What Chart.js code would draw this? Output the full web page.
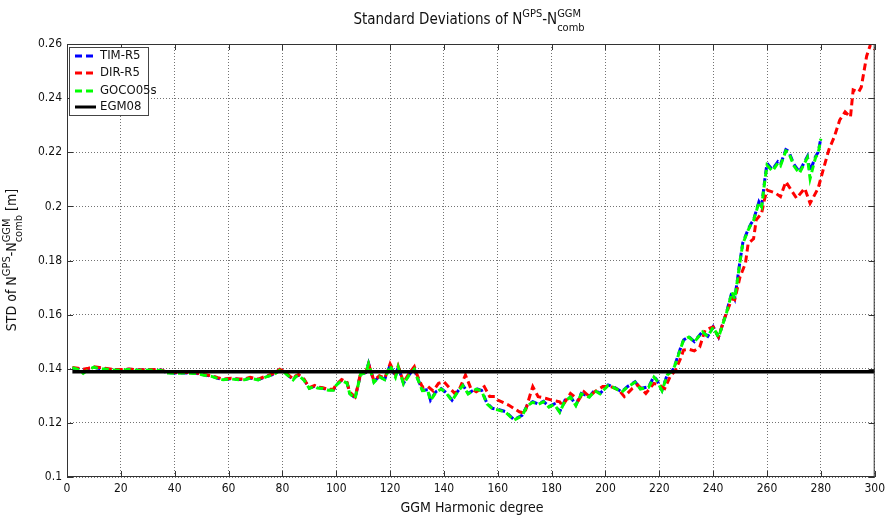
<!DOCTYPE html>
<html>
<head>
<meta charset="utf-8">
<script src="https://cdn.jsdelivr.net/npm/chart.js@4.4.1/dist/chart.umd.min.js"></script>
<style>
  html, body { margin: 0; padding: 0; background: #fff; }
  #wrap { width: 890px; height: 518px; }
</style>
</head>
<body>
<div id="wrap"><canvas id="stdChart" width="890" height="518"></canvas></div>
<script>
// harmonic degrees + STD values [m]
const degTim = [2, 4, 6, 8, 10, 12, 14, 17, 20, 23, 27, 31, 35, 37, 40, 44, 48, 51, 54, 56, 58, 61, 64, 66, 68, 71, 74, 77, 79, 81, 84, 85, 86, 88, 90, 92, 93, 95, 97, 99, 100, 102, 104, 105, 107, 108, 109, 111, 112, 114, 116, 118, 120, 122, 123, 125, 127, 129, 130, 132, 134, 135, 137, 139, 141, 143, 145, 147, 149, 152, 154, 156, 158, 160, 163, 166, 169, 171, 173, 175, 177, 179, 181, 183, 185, 187, 189, 191, 194, 196, 198, 201, 203, 206, 208, 211, 213, 216, 218, 219, 221, 223, 225, 226, 228, 229, 231, 233, 236, 238, 240, 242, 245, 247, 248, 249, 250, 251, 253, 254, 255, 257, 258, 259, 260, 262, 264, 265, 267, 268, 270, 272, 275, 276, 278, 279, 280];
const timR5 = [0.1402, 0.1400, 0.1392, 0.1398, 0.1405, 0.1401, 0.1400, 0.1396, 0.1395, 0.1398, 0.1395, 0.1396, 0.1395, 0.1386, 0.1384, 0.1385, 0.1383, 0.1377, 0.1372, 0.1365, 0.1360, 0.1363, 0.1360, 0.1360, 0.1366, 0.1360, 0.1371, 0.1380, 0.1395, 0.1385, 0.1360, 0.1372, 0.1377, 0.1360, 0.1328, 0.1336, 0.1330, 0.1328, 0.1322, 0.1322, 0.1340, 0.1358, 0.1348, 0.1310, 0.1292, 0.1334, 0.1380, 0.1386, 0.1420, 0.1352, 0.1372, 0.1361, 0.1414, 0.1371, 0.1408, 0.1346, 0.1377, 0.1400, 0.1370, 0.1321, 0.1322, 0.1284, 0.1315, 0.1327, 0.1310, 0.1284, 0.1315, 0.1340, 0.1309, 0.1327, 0.1320, 0.1272, 0.1254, 0.1250, 0.1241, 0.1212, 0.1228, 0.1266, 0.1278, 0.1270, 0.1280, 0.1260, 0.1270, 0.1241, 0.1284, 0.1297, 0.1266, 0.1309, 0.1297, 0.1321, 0.1309, 0.1340, 0.1333, 0.1315, 0.1333, 0.1352, 0.1327, 0.1333, 0.1371, 0.1360, 0.1321, 0.1380, 0.1395, 0.1420, 0.1480, 0.1506, 0.1518, 0.1500, 0.1537, 0.1520, 0.1555, 0.1517, 0.1610, 0.1685, 0.1660, 0.1728, 0.1800, 0.1865, 0.1915, 0.1935, 0.1950, 0.2017, 0.2000, 0.2085, 0.2159, 0.2136, 0.2165, 0.2155, 0.2210, 0.2205, 0.2155, 0.2128, 0.2184, 0.2130, 0.2184, 0.2200, 0.2252];
const goco05s = [0.1404, 0.1398, 0.1383, 0.1397, 0.1406, 0.1400, 0.1399, 0.1395, 0.1394, 0.1397, 0.1394, 0.1395, 0.1394, 0.1384, 0.1383, 0.1384, 0.1382, 0.1376, 0.1371, 0.1364, 0.1359, 0.1362, 0.1359, 0.1359, 0.1365, 0.1359, 0.1370, 0.1379, 0.1394, 0.1384, 0.1359, 0.1371, 0.1376, 0.1358, 0.1327, 0.1335, 0.1329, 0.1327, 0.1321, 0.1321, 0.1339, 0.1357, 0.1347, 0.1308, 0.1290, 0.1333, 0.1379, 0.1385, 0.1418, 0.1350, 0.1370, 0.1360, 0.1412, 0.1369, 0.1406, 0.1344, 0.1375, 0.1398, 0.1368, 0.1319, 0.1320, 0.1282, 0.1313, 0.1325, 0.1308, 0.1282, 0.1313, 0.1338, 0.1307, 0.1325, 0.1318, 0.1270, 0.1252, 0.1248, 0.1239, 0.1210, 0.1226, 0.1264, 0.1276, 0.1268, 0.1278, 0.1258, 0.1268, 0.1239, 0.1282, 0.1295, 0.1264, 0.1307, 0.1295, 0.1319, 0.1307, 0.1338, 0.1331, 0.1313, 0.1331, 0.1350, 0.1325, 0.1331, 0.1369, 0.1358, 0.1319, 0.1378, 0.1393, 0.1418, 0.1478, 0.1505, 0.1517, 0.1499, 0.1536, 0.1519, 0.1554, 0.1516, 0.1608, 0.1683, 0.1658, 0.1726, 0.1798, 0.1862, 0.1912, 0.1932, 0.1948, 0.2014, 0.1998, 0.2080, 0.2152, 0.2130, 0.2160, 0.2150, 0.2205, 0.2200, 0.2150, 0.2122, 0.2180, 0.2103, 0.2180, 0.2196, 0.2250];

const degDir = [2, 4, 6, 8, 10, 12, 14, 17, 20, 23, 27, 31, 35, 37, 40, 44, 48, 51, 54, 56, 58, 61, 64, 66, 68, 71, 74, 77, 79, 81, 84, 85, 86, 88, 90, 92, 93, 95, 97, 99, 100, 102, 104, 105, 107, 108, 109, 111, 112, 114, 116, 118, 120, 122, 123, 125, 127, 129, 130, 132, 134, 136, 138, 140, 142, 144, 146, 148, 150, 152, 154, 155, 157, 159, 160, 164, 168, 170, 172, 173, 175, 178, 180, 183, 184, 187, 190, 192, 194, 196, 199, 202, 205, 207, 210, 212, 215, 218, 220, 222, 224, 226, 228, 229, 231, 233, 235, 237, 240, 242, 244, 247, 248, 250, 252, 253, 255, 256, 258, 259, 260, 263, 265, 267, 269, 271, 274, 276, 279, 281, 283, 285, 287, 289, 291, 292, 294, 295, 297, 298.5, 300];
const dirR5 = [0.1405, 0.1402, 0.1398, 0.1402, 0.1407, 0.1405, 0.1402, 0.1398, 0.1397, 0.1399, 0.1396, 0.1397, 0.1395, 0.1388, 0.1386, 0.1386, 0.1385, 0.1379, 0.1374, 0.1367, 0.1362, 0.1365, 0.1362, 0.1362, 0.1368, 0.1362, 0.1373, 0.1383, 0.1398, 0.1388, 0.1362, 0.1374, 0.1379, 0.1362, 0.1330, 0.1338, 0.1332, 0.1330, 0.1324, 0.1325, 0.1342, 0.1360, 0.1350, 0.1314, 0.1296, 0.1336, 0.1382, 0.1388, 0.1418, 0.1356, 0.1374, 0.1365, 0.1418, 0.1378, 0.1410, 0.1350, 0.1382, 0.1408, 0.1378, 0.1332, 0.1335, 0.1318, 0.1346, 0.1352, 0.1330, 0.1309, 0.1330, 0.1377, 0.1327, 0.1315, 0.1327, 0.1334, 0.1297, 0.1297, 0.1284, 0.1266, 0.1241, 0.1236, 0.1303, 0.1334, 0.1297, 0.1290, 0.1284, 0.1278, 0.1262, 0.1309, 0.1284, 0.1315, 0.1297, 0.1315, 0.1334, 0.1334, 0.1321, 0.1297, 0.1327, 0.1340, 0.1309, 0.1346, 0.1340, 0.1327, 0.1370, 0.1395, 0.1440, 0.1469, 0.1472, 0.1466, 0.1480, 0.1543, 0.1555, 0.1518, 0.1580, 0.1660, 0.1655, 0.1740, 0.1790, 0.1863, 0.1880, 0.1950, 0.1974, 0.2023, 0.2060, 0.2050, 0.2036, 0.2091, 0.2060, 0.2030, 0.2067, 0.2011, 0.2067, 0.2140, 0.2210, 0.2257, 0.2319, 0.2349, 0.2330, 0.2430, 0.2422, 0.2440, 0.2555, 0.2600, 0.2580];

const degEgm = [2, 300];
const egm08 = [0.1389, 0.1389];

const xTickLabels = ["0", "20", "40", "60", "80", "100", "120", "140", "160", "180", "200", "220", "240", "260", "280", "300"];
const yTickLabels = ["0.1", "0.12", "0.14", "0.16", "0.18", "0.2", "0.22", "0.24", "0.26"];

const FONT = "'Liberation Sans Narrow', 'DejaVu Sans Condensed', 'Liberation Sans', sans-serif";

function pts(xs, ys) {
    return xs.map((x, i) => ({ x: x, y: ys[i] }))
}

// draw text with superscript / stacked sup+sub parts, returns width
function richText(ctx, parts, x, y, fs, measureOnly) {
    let cx = x
    parts.forEach(p => {
        if (p.t !== undefined) {
            ctx.font = fs + "px " + FONT
            if (!measureOnly) ctx.fillText(p.t, cx, y)
            cx += ctx.measureText(p.t).width
        } else {
            const sfs = Math.round(fs * 0.75)
            ctx.font = sfs + "px " + FONT
            let w = 0
            if (p.sup) {
                if (!measureOnly) ctx.fillText(p.sup, cx, y - fs * 0.45)
                w = Math.max(w, ctx.measureText(p.sup).width)
            }
            if (p.sub) {
                if (!measureOnly) ctx.fillText(p.sub, cx, y + fs * 0.45)
                w = Math.max(w, ctx.measureText(p.sub).width)
            }
            cx += w
        }
    })
    return cx - x
}

const titleParts = [{ t: "Standard Deviations of N" }, { sup: "GPS" }, { t: "-N" }, { sup: "GGM", sub: "comb" }]
const yTitleParts = [{ t: "STD of N" }, { sup: "GPS" }, { t: "-N" }, { sup: "GGM", sub: "comb" }, { t: " [m]" }]

const decorPlugin = {
    id: "decor",
    afterDraw(chart) {
        const ctx = chart.ctx
        const a = chart.chartArea
        const xs = chart.scales.x, ys = chart.scales.y
        ctx.save()
        ctx.textBaseline = "alphabetic"
        ctx.textAlign = "left"
        ctx.fillStyle = "#111"

        // frame + inward ticks (matlab box style)
        ctx.strokeStyle = "#333"
        ctx.lineWidth = 1
        ctx.setLineDash([])
        ctx.strokeRect(a.left + 0.5, a.top + 0.5, a.right - a.left - 1, a.bottom - a.top - 1)
        ctx.beginPath()
        xs.ticks.forEach(t => {
            const px = Math.round(xs.getPixelForValue(t.value)) + 0.5
            ctx.moveTo(px, a.bottom); ctx.lineTo(px, a.bottom - 6)
            ctx.moveTo(px, a.top); ctx.lineTo(px, a.top + 6)
        })
        ys.ticks.forEach(t => {
            const py = Math.round(ys.getPixelForValue(t.value)) + 0.5
            ctx.moveTo(a.left, py); ctx.lineTo(a.left + 6, py)
            ctx.moveTo(a.right, py); ctx.lineTo(a.right - 6, py)
        })
        ctx.stroke()

        // title
        const fs = 15
        const tw = richText(ctx, titleParts, 0, 0, fs, true)
        ctx.fillStyle = "#111"
        richText(ctx, titleParts, 469 - tw / 2, 24, fs, false)

        // x title
        ctx.font = "14px " + FONT
        ctx.textAlign = "center"
        ctx.fillText("GGM Harmonic degree", 472, 512)
        ctx.textAlign = "left"

        // y title (rotated)
        ctx.save()
        ctx.translate(16, 260)
        ctx.rotate(-Math.PI / 2)
        const yw = richText(ctx, yTitleParts, 0, 0, 14, true)
        richText(ctx, yTitleParts, -yw / 2, 0, 14, false)
        ctx.restore()

        // legend box
        const lx = 69, ly = 47, lw = 79, lh = 68
        ctx.fillStyle = "#fff"
        ctx.fillRect(lx, ly, lw, lh)
        ctx.strokeStyle = "#444"
        ctx.strokeRect(lx + 0.5, ly + 0.5, lw, lh)
        const rows = [56, 73, 91, 107]
        chart.data.datasets.forEach((ds, i) => {
            const y = rows[i]
            ctx.strokeStyle = ds.borderColor
            ctx.lineWidth = 3
            ctx.setLineDash(ds.borderDash || [])
            ctx.beginPath()
            ctx.moveTo(75, y); ctx.lineTo(96, y)
            ctx.stroke()
            ctx.setLineDash([])
            ctx.fillStyle = "#111"
            ctx.font = "13px " + FONT
            ctx.textBaseline = "middle"
            ctx.fillText(ds.label, 100, y)
        })
        ctx.restore()
    }
}

const gridStyle = {
    color: "rgba(0,0,0,0.55)",
    lineWidth: 1,
    drawTicks: false,
    tickBorderDash: [1, 2]
}

new Chart(document.getElementById("stdChart").getContext("2d"), {
    type: "line",
    data: {
        datasets: [
            { label: "TIM-R5", data: pts(degTim, timR5), borderColor: "#0000ff", borderWidth: 3, borderDash: [7, 4], order: 4 },
            { label: "DIR-R5", data: pts(degDir, dirR5), borderColor: "#ff0000", borderWidth: 3, borderDash: [7, 4], order: 3 },
            { label: "GOCO05s", data: pts(degTim, goco05s), borderColor: "#00ff00", borderWidth: 3, borderDash: [7, 4], order: 2 },
            { label: "EGM08", data: pts(degEgm, egm08), borderColor: "#000000", borderWidth: 3.5, order: 1 }
        ]
    },
    options: {
        responsive: false,
        devicePixelRatio: 1,
        animation: false,
        layout: { padding: { top: 44, right: 13, bottom: 0, left: 0 } },
        elements: {
            point: { radius: 0 },
            line: { tension: 0, fill: false, borderCapStyle: "butt" }
        },
        plugins: {
            legend: { display: false },
            title: { display: false },
            tooltip: { enabled: false }
        },
        scales: {
            x: {
                type: "linear",
                min: 0,
                max: 300,
                ticks: {
                    stepSize: 20,
                    padding: 5,
                    color: "#111",
                    font: { family: FONT, size: 12 },
                    maxRotation: 0,
                    callback: (v, i) => xTickLabels[i]
                },
                grid: gridStyle,
                border: { display: false, dash: [1, 2] },
                afterFit: s => { s.height = 41 }
            },
            y: {
                min: 0.1,
                max: 0.26,
                ticks: {
                    stepSize: 0.02,
                    padding: 5,
                    color: "#111",
                    font: { family: FONT, size: 12 },
                    callback: (v, i) => yTickLabels[i]
                },
                grid: gridStyle,
                border: { display: false, dash: [1, 2] },
                afterFit: s => { s.width = 67 }
            }
        }
    },
    plugins: [decorPlugin]
})
</script>
</body>
</html>
